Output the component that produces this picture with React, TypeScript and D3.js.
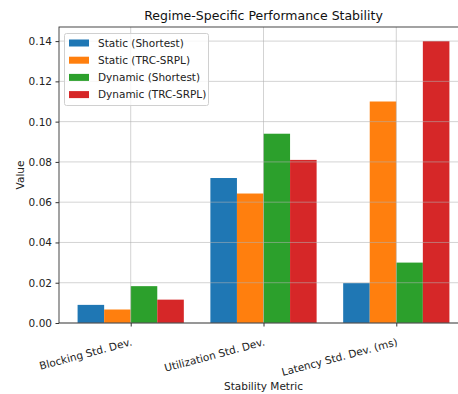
import React, { useEffect, useRef } from 'react';
import * as d3 from 'd3';

const metrics = ['Blocking Std. Dev.', 'Utilization Std. Dev.', 'Latency Std. Dev. (ms)'];
const seriesNames = ['Static (Shortest)', 'Static (TRC-SRPL)', 'Dynamic (Shortest)', 'Dynamic (TRC-SRPL)'];
const colors = ['#1f77b4', '#ff7f0e', '#2ca02c', '#d62728'];
const staticShortest = [0.009, 0.072, 0.0198];
const staticTrc = [0.0067, 0.0643, 0.11];
const dynamicShortest = [0.0183, 0.094, 0.03];
const dynamicTrc = [0.0116, 0.081, 0.14];
const yTicks = [0, 0.02, 0.04, 0.06, 0.08, 0.1, 0.12, 0.14];

const W = 458;
const H = 394;
const font = 'DejaVu Sans, sans-serif';

export default function App() {
  const ref = useRef<SVGSVGElement>(null);

  useEffect(() => {
    const svg = d3.select(ref.current);
    svg.selectAll('*').remove();

    const left = 59, top = 27, bottom = 323, right = 468;
    const series = [staticShortest, staticTrc, dynamicShortest, dynamicTrc];
    const barW = 0.2;

    const x = d3.scaleLinear().domain([-0.54, 2.54]).range([left, right]);
    const y = d3.scaleLinear().domain([0, 0.147]).range([bottom, top]);

    const g = svg.append('g');

    // bars
    series.forEach((vals, si) => {
      g.selectAll(null)
        .data(vals)
        .enter()
        .append('rect')
        .attr('x', (_d, i) => x(i + (si - 1.5) * barW - barW / 2))
        .attr('width', x(barW) - x(0))
        .attr('y', d => y(d))
        .attr('height', d => y(0) - y(d))
        .attr('fill', colors[si]);
    });

    // grid (drawn over bars like matplotlib)
    g.selectAll(null)
      .data(yTicks)
      .enter()
      .append('line')
      .attr('x1', left).attr('x2', right)
      .attr('y1', d => y(d)).attr('y2', d => y(d))
      .attr('stroke', '#b0b0b0').attr('stroke-opacity', 0.7).attr('stroke-width', 0.8);
    g.selectAll(null)
      .data(metrics)
      .enter()
      .append('line')
      .attr('x1', (_d, i) => x(i)).attr('x2', (_d, i) => x(i))
      .attr('y1', top).attr('y2', bottom)
      .attr('stroke', '#b0b0b0').attr('stroke-opacity', 0.7).attr('stroke-width', 0.8);

    // frame
    g.append('rect')
      .attr('x', left).attr('y', top)
      .attr('width', right - left).attr('height', bottom - top)
      .attr('fill', 'none').attr('stroke', '#333').attr('stroke-width', 0.9);

    // y axis
    const yAxis = g.append('g').attr('transform', `translate(${left},0)`)
      .call(d3.axisLeft(y).tickValues(yTicks).tickFormat(d3.format('.2f')).tickSize(3.5).tickPadding(3.5));
    yAxis.select('.domain').remove();
    yAxis.selectAll('text').attr('font-family', font).attr('font-size', 10.5).attr('fill', '#222');
    yAxis.selectAll('line').attr('stroke', '#333');

    // x axis
    const xAxis = g.append('g').attr('transform', `translate(0,${bottom})`)
      .call(d3.axisBottom(x).tickValues([0, 1, 2]).tickFormat(() => '').tickSize(3.5));
    xAxis.select('.domain').remove();
    xAxis.selectAll('line').attr('stroke', '#333');

    g.selectAll(null)
      .data(metrics)
      .enter()
      .append('text')
      .attr('transform', (_d, i) => `translate(${x(i)},${bottom + 15}) rotate(-15)`)
      .attr('text-anchor', 'end')
      .attr('dy', '0.7em')
      .attr('font-family', font).attr('font-size', 10.5).attr('fill', '#222')
      .text(d => d);

    // labels
    svg.append('text')
      .attr('x', (left + right) / 2).attr('y', 20)
      .attr('text-anchor', 'middle')
      .attr('font-family', font).attr('font-size', 12.5).attr('fill', '#111')
      .text('Regime-Specific Performance Stability');
    svg.append('text')
      .attr('x', (left + right) / 2).attr('y', 390)
      .attr('text-anchor', 'middle')
      .attr('font-family', font).attr('font-size', 10.5).attr('fill', '#222')
      .text('Stability Metric');
    svg.append('text')
      .attr('transform', `translate(24,${(top + bottom) / 2}) rotate(-90)`)
      .attr('text-anchor', 'middle')
      .attr('font-family', font).attr('font-size', 10.5).attr('fill', '#222')
      .text('Value');

    // legend
    const lg = svg.append('g');
    lg.append('rect')
      .attr('x', 64.5).attr('y', 33.5).attr('width', 144).attr('height', 72).attr('rx', 2)
      .attr('fill', 'white').attr('fill-opacity', 0.8)
      .attr('stroke', '#d0d0d0');
    seriesNames.forEach((name, i) => {
      const yy = 43 + i * 17.2;
      lg.append('rect').attr('x', 69).attr('y', yy - 3.5).attr('width', 20).attr('height', 7).attr('fill', colors[i]);
      lg.append('text').attr('x', 98).attr('y', yy).attr('dy', '0.35em')
        .attr('font-family', font).attr('font-size', 10.5).attr('fill', '#222')
        .text(name);
    });
  }, []);

  return (
    <svg ref={ref} width={W} height={H}
      style={{ position: 'absolute', left: 0, top: 0, background: 'white' }} />
  );
}
